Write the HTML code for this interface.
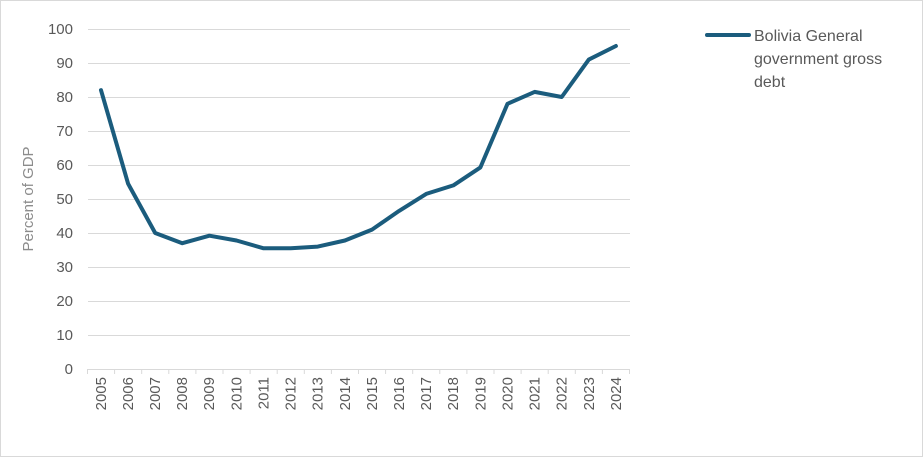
<!DOCTYPE html>
<html><head><style>body{margin:0;background:#fff}svg{display:block}</style></head><body>
<svg width="923" height="457" xmlns="http://www.w3.org/2000/svg" font-family="Liberation Sans, sans-serif">
<rect x="0.5" y="0.5" width="922" height="456" fill="#fff" stroke="#d9d9d9"/>
<g stroke="#d9d9d9" stroke-width="1">
<line x1="88" x2="630" y1="29.5" y2="29.5"/><line x1="88" x2="630" y1="63.5" y2="63.5"/><line x1="88" x2="630" y1="97.5" y2="97.5"/><line x1="88" x2="630" y1="131.5" y2="131.5"/><line x1="88" x2="630" y1="165.5" y2="165.5"/><line x1="88" x2="630" y1="199.5" y2="199.5"/><line x1="88" x2="630" y1="233.5" y2="233.5"/><line x1="88" x2="630" y1="267.5" y2="267.5"/><line x1="88" x2="630" y1="301.5" y2="301.5"/><line x1="88" x2="630" y1="335.5" y2="335.5"/><line x1="88" x2="630" y1="369.5" y2="369.5"/>
<path d="M87.5 369v5M114.6 369v5M141.7 369v5M168.8 369v5M195.9 369v5M223 369v5M250.1 369v5M277.2 369v5M304.3 369v5M331.4 369v5M358.5 369v5M385.6 369v5M412.7 369v5M439.8 369v5M466.9 369v5M494 369v5M521.1 369v5M548.2 369v5M575.3 369v5M602.4 369v5M629.5 369v5"/>
</g>
<g fill="#595959" font-size="15" text-anchor="end">
<text x="73" y="34">100</text><text x="73" y="68">90</text><text x="73" y="102">80</text><text x="73" y="136">70</text><text x="73" y="170">60</text><text x="73" y="204">50</text><text x="73" y="238">40</text><text x="73" y="272">30</text><text x="73" y="306">20</text><text x="73" y="340">10</text><text x="73" y="374">0</text>
</g>
<text transform="translate(33,199) rotate(-90)" text-anchor="middle" fill="#8c8c8c" font-size="15">Percent of GDP</text>
<g fill="#595959" font-size="15" text-anchor="end">
<text transform="translate(106,377) rotate(-90)">2005</text><text transform="translate(133,377) rotate(-90)">2006</text><text transform="translate(160,377) rotate(-90)">2007</text><text transform="translate(187,377) rotate(-90)">2008</text><text transform="translate(214,377) rotate(-90)">2009</text><text transform="translate(241.5,377) rotate(-90)">2010</text><text transform="translate(268.5,377) rotate(-90)">2011</text><text transform="translate(295.5,377) rotate(-90)">2012</text><text transform="translate(322.5,377) rotate(-90)">2013</text><text transform="translate(350,377) rotate(-90)">2014</text><text transform="translate(377,377) rotate(-90)">2015</text><text transform="translate(404,377) rotate(-90)">2016</text><text transform="translate(431,377) rotate(-90)">2017</text><text transform="translate(458,377) rotate(-90)">2018</text><text transform="translate(485.5,377) rotate(-90)">2019</text><text transform="translate(512.5,377) rotate(-90)">2020</text><text transform="translate(539.5,377) rotate(-90)">2021</text><text transform="translate(566.5,377) rotate(-90)">2022</text><text transform="translate(594,377) rotate(-90)">2023</text><text transform="translate(621,377) rotate(-90)">2024</text>
</g>
<polyline fill="none" stroke="#1b5c7d" stroke-width="4" stroke-linejoin="round" stroke-linecap="round" points="101,90.2 128.1,183.7 155.2,233 182.3,243.2 209.4,235.7 236.5,240.5 263.6,248.3 290.7,248.3 317.8,246.6 344.9,240.5 372,229.6 399.1,210.9 426.2,193.9 453.3,185.4 480.4,167.4 507.5,103.8 534.6,91.9 561.7,97 588.8,59.6 615.9,46"/>
<line x1="707" x2="749" y1="35" y2="35" stroke="#1b5c7d" stroke-width="4" stroke-linecap="round"/>
<g fill="#595959" font-size="16"><text x="754" y="41">Bolivia General</text><text x="754" y="64">government gross</text><text x="754" y="87">debt</text></g>
</svg>
</body></html>
